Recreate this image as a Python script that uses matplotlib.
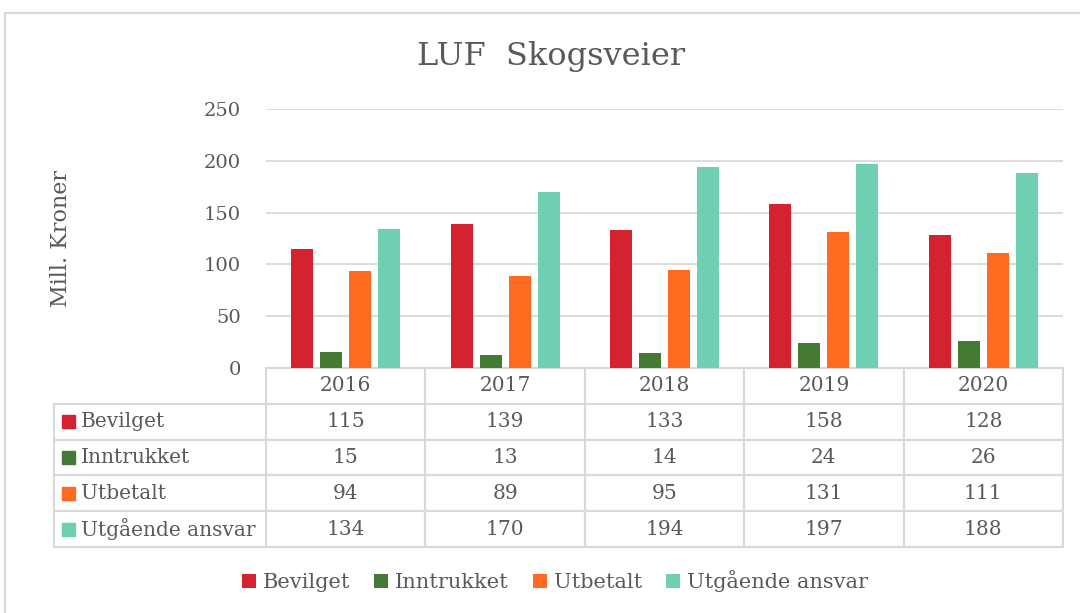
import matplotlib
matplotlib.use('Agg')
import matplotlib.pyplot as plt
import numpy as np
from matplotlib.patches import Rectangle

# data
years = ['2016', '2017', '2018', '2019', '2020']
series = ['Bevilget', 'Inntrukket', 'Utbetalt', 'Utgående ansvar']
bevilget = [115, 139, 133, 158, 128]
inntrukket = [15, 13, 14, 24, 26]
utbetalt = [94, 89, 95, 131, 111]
utgaende = [134, 170, 194, 197, 188]
values = [bevilget, inntrukket, utbetalt, utgaende]
colors = ['#D42230', '#457A35', '#FF6A21', '#6ECFB2']

txt = '#595959'
grid = '#D9D9D9'
plt.rcParams['font.family'] = ['DejaVu Serif', 'DejaVu Sans']

fig = plt.figure(figsize=(10.8, 6.13), dpi=100)
ax = fig.add_axes([266/1080, 1-368/613, 797/1080, 259/613])

x = np.arange(len(years))
w = 0.138
step = 0.182
for i, (name, vals) in enumerate(zip(series, values)):
    ax.bar(x + (i - 1.5) * step, vals, width=w, color=colors[i], label=name, zorder=3)

ax.set_xlim(-0.5, len(years) - 0.5)
ax.set_ylim(0, 250)
ax.set_yticks(range(0, 251, 50))
ax.yaxis.grid(True, color=grid, linewidth=1.3, zorder=0)
ax.set_xticks([])
ax.tick_params(axis='y', length=0, pad=18, labelsize=14, labelcolor=txt)
for s in ax.spines.values():
    s.set_visible(False)

# title centred over the chart + table block
fig.text(551/1080, 1-56/613, 'LUF  Skogsveier', fontsize=23, color=txt,
         ha='center', va='center')
ax.set_ylabel('Mill. Kroner', fontsize=16, color=txt)
ax.yaxis.set_label_coords(-0.243, 0.5)

# data table
cell_text = [[name] + [str(v) for v in vals] for name, vals in zip(series, values)]
tb_left = (54 - 266) / 797
tb_h = 179 / 259
tbl = ax.table(cellText=cell_text, colLabels=[''] + years,
               colWidths=[212] + [159.4] * 5, cellLoc='center',
               bbox=[tb_left, -tb_h, 1 - tb_left, tb_h])
tbl.auto_set_font_size(False)
tbl.set_fontsize(14.5)
for (r, c), cell in tbl.get_celld().items():
    cell.set_edgecolor(grid)
    cell.set_linewidth(1.5)
    cell.get_text().set_color(txt)
    if r == 0 and c == 0:
        cell.visible_edges = ''
    if c == 0 and r > 0:
        cell._loc = 'left'
        cell.get_text().set_ha('left')
        cell.PAD = 27 / 212

# colour keys in row labels
row_h = tb_h / 5
for i, col in enumerate(colors):
    yc = -(i + 1.5) * row_h
    ax.add_patch(Rectangle(((62 - 266) / 797, yc - 6.5 / 259), 13 / 797, 13 / 259,
                           transform=ax.transAxes, color=col, clip_on=False))

leg = fig.legend(loc='center', bbox_to_anchor=(555/1080, 1-581/613), ncol=4,
                 frameon=False, fontsize=15, handlelength=0.65, handleheight=0.65,
                 handletextpad=0.35, columnspacing=1.15)
for t in leg.get_texts():
    t.set_color(txt)

# chart frame
fig.patches.append(Rectangle((5/1080, -0.1), 1.2, 1.1 - 13/613, transform=fig.transFigure,
                             fill=False, edgecolor=grid, linewidth=1.5))

fig.savefig('out.png', dpi=100)
